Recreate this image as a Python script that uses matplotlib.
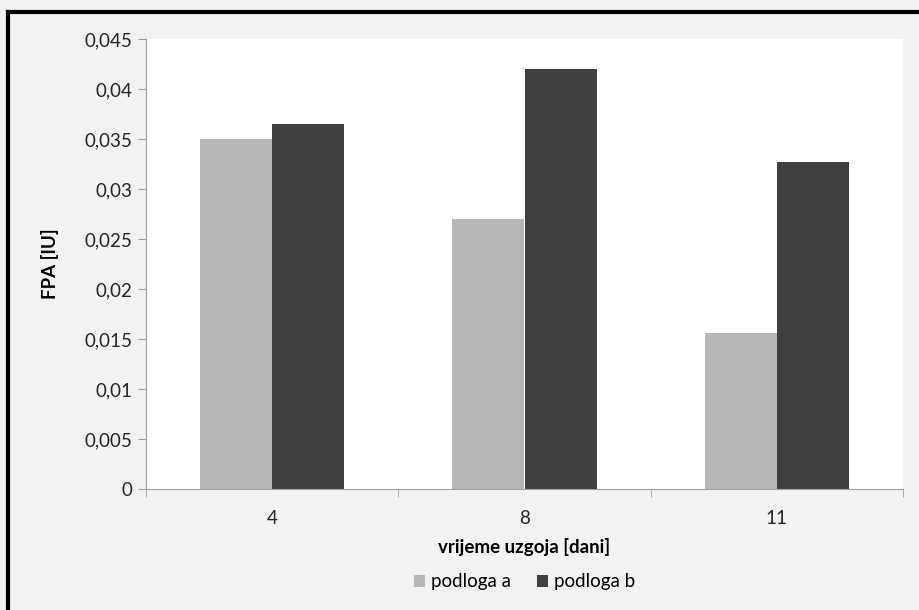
import numpy as np
import matplotlib.pyplot as plt
from matplotlib.lines import Line2D

plt.rcParams['font.family'] = ['Lato', 'DejaVu Sans']

# data
days = ['4', '8', '11']
podloga_a = [0.035, 0.027, 0.0156]
podloga_b = [0.0365, 0.042, 0.0327]
yticks = [0, 0.005, 0.01, 0.015, 0.02, 0.025, 0.03, 0.035, 0.04, 0.045]

W, H = 919, 610
fig = plt.figure(figsize=(W / 100, H / 100), dpi=100)
fig.patch.set_facecolor('#f2f2f2')

# plot area in pixels: x 146..903, y 39..489
ax = fig.add_axes([146 / W, 1 - 489 / H, (903 - 146) / W, (489 - 39) / H])
ax.set_facecolor('white')

x = np.arange(len(days))
bw = 0.286
ax.bar(x - bw / 2, podloga_a, bw, color='#b7b7b7', label='podloga a')
ax.bar(x + bw / 2, podloga_b, bw, color='#404040', label='podloga b')

fs = 13.5
ax.set_xlim(-0.5, 2.5)
ax.set_ylim(0, 0.045)
ax.set_yticks(yticks)
ax.set_yticklabels([('%g' % v).replace('.', ',') for v in yticks], fontsize=fs, color='#262626')
ax.set_xticks(x)
ax.set_xticklabels(days, fontsize=fs, color='#262626')
ax.set_xticks([-0.5, 0.5, 1.5, 2.5], minor=True)
ax.tick_params(axis='x', which='major', length=0, pad=15)
ax.tick_params(axis='x', which='minor', length=6, color='#a0a0a0')
ax.tick_params(axis='y', length=6, color='#a0a0a0', pad=4)

for s in ['top', 'right']:
    ax.spines[s].set_visible(False)
for s in ['left', 'bottom']:
    ax.spines[s].set_color('#a0a0a0')

ax.set_xlabel('vrijeme uzgoja [dani]', fontsize=fs, fontweight='bold', labelpad=8)
ax.set_ylabel('FPA [IU]', fontsize=fs, fontweight='bold', labelpad=18)

ax.legend(loc='upper center', bbox_to_anchor=(0.5, -0.15), ncol=2, frameon=False,
          fontsize=fs, handlelength=0.6, handleheight=0.6, handletextpad=0.3,
          columnspacing=1.4)

# black border on top and left
fig.add_artist(Line2D([8 / W, 8 / W], [0, 1 - 12 / H], color='black', lw=3,
                      solid_capstyle='projecting'))
fig.add_artist(Line2D([8 / W, 1], [1 - 12 / H, 1 - 12 / H], color='black', lw=3,
                      solid_capstyle='projecting'))

fig.savefig('out.png', dpi=100, facecolor=fig.get_facecolor())
